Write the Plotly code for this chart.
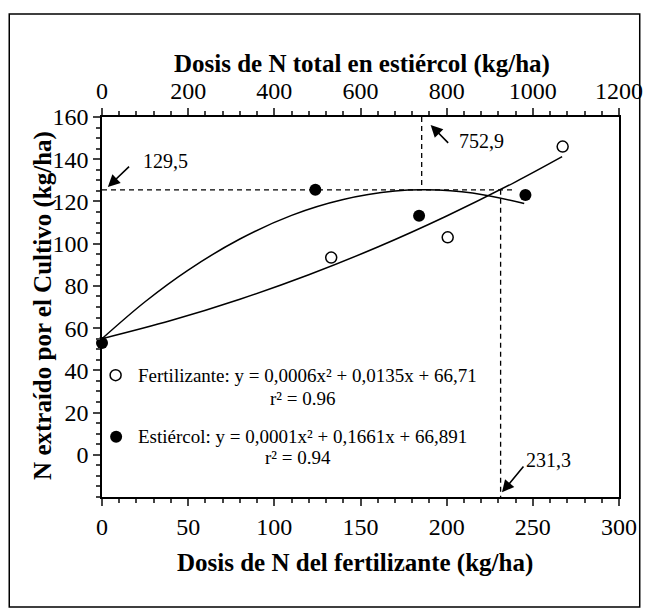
import plotly.graph_objects as go

# ---- data ----
fert_x = [133, 200.6, 267.3]
fert_y = [93.4, 103, 146]
est_x = [0, 123.8, 184, 245.7]
est_y = [53, 125.5, 113.2, 123]

# fitted curves
fert_fit_x = [0, 40, 80, 120, 160, 200, 240, 267]
fert_fit_y = [55, 63.6, 73.7, 85.3, 98.4, 113.1, 129.3, 141.2]
est_fit_x = [0, 25, 50, 80, 110, 140, 170, 188, 215, 245]
est_fit_y = [55, 72.5, 87.5, 102.2, 113.4, 120.9, 124.9, 125.5, 124.0, 119.0]

# guide lines
h_line_y = 125.5
h_line_x_end = 240
v_line_x = 231.3          # bottom-axis units
v_top_x2 = 742            # top-axis units (read position)

x_ticks = [0, 50, 100, 150, 200, 250, 300]
x2_ticks = [0, 200, 400, 600, 800, 1000, 1200]
y_ticks = [0, 20, 40, 60, 80, 100, 120, 140, 160]

FONT = "Liberation Serif, serif"
BLACK = "black"

fig = go.Figure()

fig.add_trace(go.Scatter(x=est_fit_x, y=est_fit_y, mode="lines", line=dict(color=BLACK, width=1.5, shape="spline"), showlegend=False, hoverinfo="skip"))
fig.add_trace(go.Scatter(x=fert_fit_x, y=fert_fit_y, mode="lines", line=dict(color=BLACK, width=1.5, shape="spline"), showlegend=False, hoverinfo="skip"))

# dashed guide lines
dash = dict(color=BLACK, width=1.3, dash="5px,4px")
fig.add_trace(go.Scatter(x=[0, h_line_x_end], y=[h_line_y, h_line_y], mode="lines", line=dash, showlegend=False, hoverinfo="skip"))
fig.add_trace(go.Scatter(x=[v_line_x, v_line_x], y=[h_line_y, -20], mode="lines", line=dash, showlegend=False, hoverinfo="skip"))
fig.add_trace(go.Scatter(x=[v_top_x2, v_top_x2], y=[160, h_line_y], xaxis="x2", mode="lines", line=dash, showlegend=False, hoverinfo="skip"))

# points
fig.add_trace(go.Scatter(x=est_x, y=est_y, mode="markers", marker=dict(color=BLACK, size=12), cliponaxis=False, showlegend=False))
fig.add_trace(go.Scatter(x=fert_x, y=fert_y, mode="markers", marker=dict(color="white", size=11, line=dict(color=BLACK, width=1.5)), showlegend=False))

# legend-like markers inside the plot
fig.add_trace(go.Scatter(x=[7.9], y=[37.7], mode="markers", marker=dict(color="white", size=11, line=dict(color=BLACK, width=1.5)), showlegend=False, hoverinfo="skip"))
fig.add_trace(go.Scatter(x=[8.2], y=[8.5], mode="markers", marker=dict(color=BLACK, size=12), showlegend=False, hoverinfo="skip"))

tickfont = dict(family=FONT, size=24, color=BLACK)
axis_common = dict(ticks="outside", ticklen=7, tickwidth=1.5, showline=True, linecolor=BLACK, linewidth=1.5,
                   showgrid=False, zeroline=False, tickfont=tickfont)
fig.update_layout(
    width=655, height=614, autosize=False,
    margin=dict(l=102, r=29, t=117, b=117),
    paper_bgcolor="white", plot_bgcolor="white",
    font=dict(family=FONT, color=BLACK),
    xaxis=dict(range=[0, 300], tickmode="array", tickvals=x_ticks, **axis_common,
               minor=dict(tickmode="linear", tick0=0, dtick=10, ticks="outside", ticklen=4, tickwidth=1.5, showgrid=False)),
    xaxis2=dict(range=[0, 1200], overlaying="x", side="top", tickmode="array", tickvals=x2_ticks, **axis_common,
                minor=dict(tickmode="linear", tick0=0, dtick=40, ticks="outside", ticklen=4, tickwidth=1.5, showgrid=False)),
    yaxis=dict(range=[-20, 160], tickmode="array", tickvals=y_ticks, mirror=True, **axis_common,
               minor=dict(tickmode="linear", tick0=0, dtick=5, ticks="outside", ticklen=4, tickwidth=1.5, showgrid=False)),
)

# frame around the whole figure
fig.add_shape(type="rect", xref="paper", yref="paper", x0=-0.1794, x1=1.0401, y0=-0.2895, y1=1.271,
              line=dict(color=BLACK, width=1.5), layer="above")

ann_font = dict(family=FONT, size=20, color=BLACK)
title_font = dict(family=FONT, size=25, color=BLACK)

# axis titles
fig.add_annotation(text="<b>Dosis de N del fertilizante (kg/ha)</b>", xref="paper", yref="paper", x=0.4885, y=-0.1737,
                   showarrow=False, font=title_font, xanchor="center", yanchor="middle")
fig.add_annotation(text="<b>Dosis de N total en estiércol (kg/ha)</b>", xref="paper", yref="paper", x=0.502, y=1.1395,
                   showarrow=False, font=title_font, xanchor="center", yanchor="middle")
fig.add_annotation(text="<b>N extraído por el Cultivo (kg/ha)</b>", xref="paper", yref="paper", x=-0.1145, y=0.505,
                   showarrow=False, font=title_font, textangle=-90, xanchor="center", yanchor="middle")

# arrows
arrow = dict(showarrow=True, arrowhead=2, arrowsize=1.5, arrowwidth=1.6, arrowcolor=BLACK, text="")
fig.add_annotation(x=3.4, y=126.9, ax=22.7, ay=-21.7, **arrow)
fig.add_annotation(x=190.7, y=156.2, ax=19, ay=19.3, **arrow)
fig.add_annotation(x=232.1, y=-17.8, ax=22.7, ay=-27.3, **arrow)

# value labels
fig.add_annotation(text="129,5", x=22.6, y=139.2, showarrow=False, font=ann_font, xanchor="left", yanchor="middle")
fig.add_annotation(text="752,9", x=206, y=148.7, showarrow=False, font=ann_font, xanchor="left", yanchor="middle")
fig.add_annotation(text="231,3", x=244.7, y=-2.5, showarrow=False, font=ann_font, xanchor="left", yanchor="middle")

# equations
eq_font = dict(family=FONT, size=19, color=BLACK)
fig.add_annotation(text="Fertilizante: y = 0,0006x² + 0,0135x + 66,71", x=19.5, y=37.7, showarrow=False, font=eq_font, xanchor="left", yanchor="middle")
fig.add_annotation(text="r² = 0.96", x=116.6, y=26.8, showarrow=False, font=eq_font, xanchor="center", yanchor="middle")
fig.add_annotation(text="Estiércol: y = 0,0001x² + 0,1661x + 66,891", x=19.5, y=8.5, showarrow=False, font=eq_font, xanchor="left", yanchor="middle")
fig.add_annotation(text="r² = 0.94", x=114, y=-1.5, showarrow=False, font=eq_font, xanchor="center", yanchor="middle")

fig.write_html("out.html", config={"responsive": False, "displayModeBar": False},
               post_script="document.body.style.margin='0';document.body.style.overflow='hidden';")
